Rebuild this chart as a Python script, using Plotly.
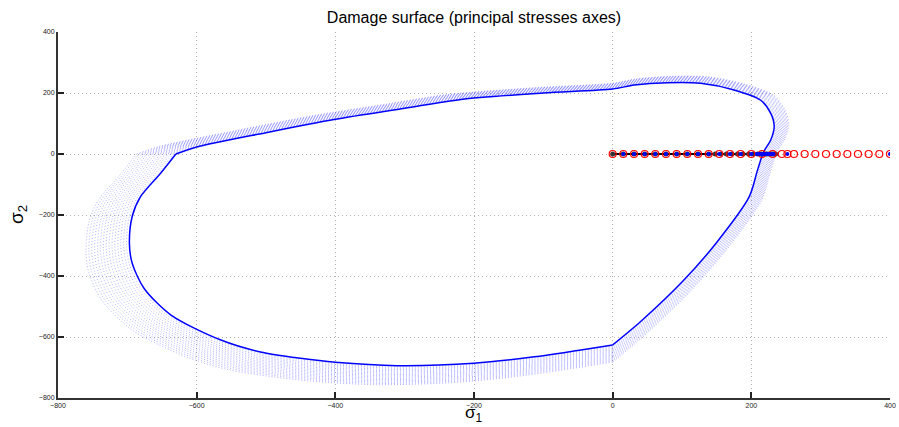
import plotly.graph_objects as go

# Damage surface (solid contour), principal stresses; two smooth arcs joined at sharp corners
arc1_s1 = [-630, -600, -500, -400, -300, -219, -100, 0, 31, 79, 127, 175, 213, 228, 233, 228, 218, 209, 197, 150, 100, 40, 0]
arc1_s2 = [0, 23, 70, 114, 150, 179, 200, 213, 226, 234, 232, 210, 177, 133, 90, 46, 8, -52, -140, -290, -420, -550, -626]
arc2_s1 = [0, -113, -200, -311, -400, -450, -508, -565, -637, -676, -693, -697, -693, -681, -652, -630]
arc2_s2 = [-626, -665, -686, -694, -683, -670, -649, -610, -528, -440, -358, -293, -205, -140, -63, 0]

# successive (evolving) damage surfaces, as factors of the initial one
evol_factors = [1.006, 1.012, 1.018, 1.024, 1.03, 1.036, 1.042, 1.048, 1.054, 1.06, 1.066, 1.072, 1.078, 1.084, 1.09]

# loading path points on sigma_2 = 0
red_s1 = [0, 15.4, 30.8, 46.2, 61.5, 76.9, 92.3, 107.7, 123.1, 138.5, 153.8, 169.2, 184.6, 200, 215.4, 230.8,
          244, 252, 261.5, 276.9, 292.3, 307.7, 323.1, 338.5, 353.8, 369.2, 384.6, 400]
black_s1 = [0, 15.4, 30.8, 46.2, 61.5, 76.9, 92.3, 107.7, 123.1, 138.5, 148, 156, 164, 172, 180, 188, 196, 203, 209,
            214, 218, 222, 226, 229, 232, 235]
blue_s1 = [15.4, 30.8, 46.2, 61.5, 76.9, 92.3, 107.7, 123.1, 138.5, 153.8, 169.2, 184.6, 200, 208, 211, 214, 217,
           220, 223, 226, 229, 232, 252, 400]

FONT = "Liberation Sans, Arial, sans-serif"
fig = go.Figure()

for f in evol_factors:
    for xs, ys in ((arc1_s1, arc1_s2), (arc2_s1, arc2_s2)):
        fig.add_trace(go.Scatter(
            x=[v * f for v in xs], y=[v * f for v in ys], mode="lines",
            line=dict(color="rgba(80,80,255,0.55)", width=0.8, dash="1px,2px", shape="spline", smoothing=0.8),
            hoverinfo="skip", showlegend=False))

for xs, ys in ((arc1_s1, arc1_s2), (arc2_s1, arc2_s2)):
    fig.add_trace(go.Scatter(x=xs, y=ys, mode="lines",
                             line=dict(color="#0000ff", width=1.5, shape="spline", smoothing=0.8),
                             showlegend=False))

fig.add_trace(go.Scatter(x=black_s1, y=[0] * len(black_s1), mode="lines+markers",
                         line=dict(color="black", width=2),
                         marker=dict(symbol="circle", size=5, color="#333333"), showlegend=False))
fig.add_trace(go.Scatter(x=red_s1, y=[0] * len(red_s1), mode="markers",
                         marker=dict(symbol="circle-open", size=7, color="red", line=dict(width=1.2)),
                         showlegend=False))
fig.add_trace(go.Scatter(x=blue_s1, y=[0] * len(blue_s1), mode="markers",
                         marker=dict(symbol="circle", size=4, color="#0000ff"), showlegend=False))

ticks = [-800, -600, -400, -200, 0, 200, 400]
axis_common = dict(
    tickvals=ticks, ticktext=[str(t).replace("-", "\u2212") for t in ticks],
    showgrid=True, gridcolor="#b0b0b0", griddash="1px,3px", gridwidth=1,
    zeroline=False, showline=True, linecolor="#333333", linewidth=2,
    ticks="inside", ticklen=6, tickcolor="#222222", tickwidth=1.5,
    tickfont=dict(family=FONT, size=7, color="#222222"),
    automargin=False,
)
fig.update_xaxes(range=[-800, 400], **axis_common)
fig.update_yaxes(range=[-800, 400], **axis_common)

fig.update_layout(
    width=899, height=427,
    margin=dict(l=58, r=9, t=32, b=29),
    paper_bgcolor="white", plot_bgcolor="white",
    title=dict(text="Damage surface (principal stresses axes)", x=474 / 899, xanchor="center",
               y=1 - 17 / 427, yanchor="middle", yref="container",
               font=dict(family=FONT, size=16, color="black")),
    annotations=[
        dict(text="σ<sub>1</sub>", xref="paper", yref="paper", x=0.5, y=-0.08, yanchor="bottom",
             showarrow=False, font=dict(family=FONT, size=17, color="black")),
        dict(text="σ<sub>2</sub>", xref="paper", yref="paper", x=-0.048, xanchor="center", y=0.5,
             yanchor="middle", textangle=-90, showarrow=False,
             font=dict(family=FONT, size=19, color="black")),
    ],
)

fig.write_html("out.html")
